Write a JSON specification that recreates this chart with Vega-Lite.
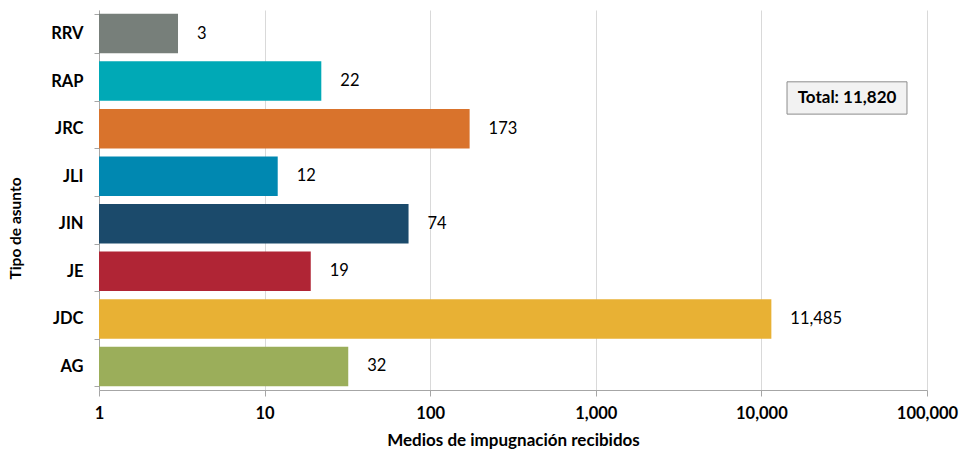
{
  "$schema": "https://vega.github.io/schema/vega-lite/v6.json",
  "autosize": "none",
  "width": 828,
  "height": 380,
  "padding": {"left": 99, "top": 10, "right": 33, "bottom": 62},
  "background": "white",
  "config": {
    "font": "Lato",
    "view": {"stroke": null},
    "axis": {"labelFont": "Lato", "titleFont": "Lato"}
  },
  "datasets": {
    "bars": [
      {"tipo": "RRV", "valor": 3, "color": "#777F7A"},
      {"tipo": "RAP", "valor": 22, "color": "#00A9B6"},
      {"tipo": "JRC", "valor": 173, "color": "#D9732C"},
      {"tipo": "JLI", "valor": 12, "color": "#0088B1"},
      {"tipo": "JIN", "valor": 74, "color": "#1B4A6B"},
      {"tipo": "JE", "valor": 19, "color": "#B02535"},
      {"tipo": "JDC", "valor": 11485, "color": "#E8B134"},
      {"tipo": "AG", "valor": 32, "color": "#9BAE5A"}
    ],
    "total": [
      {"label": "Total: 11,820", "x1": 14280, "x2": 75700, "xm": 32900, "y1": 0.726, "y2": 0.811, "ym": 0.7685}
    ]
  },
  "layer": [
    {
      "data": {"name": "bars"},
      "layer": [
        {
          "mark": {"type": "bar"},
          "encoding": {
            "y": {
              "field": "tipo", "type": "nominal", "sort": null,
              "scale": {"paddingInner": 0.17, "paddingOuter": 0.08},
              "axis": {
                "title": "Tipo de asunto", "titleFontSize": 15.5, "titleFontWeight": "bold", "titleColor": "#000",
                "titlePadding": 27, "titleY": 218,
                "labelFontSize": 16.5, "labelFontWeight": "bold", "labelColor": "#000", "labelPadding": 11,
                "tickBand": "extent", "tickColor": "#a6a6a6", "tickSize": 5,
                "domainColor": "#a6a6a6", "grid": false
              }
            },
            "x": {
              "field": "valor", "type": "quantitative",
              "scale": {"type": "log", "domain": [1, 100000], "nice": false},
              "axis": {
                "title": "Medios de impugnación recibidos", "titleFontSize": 17, "titleFontWeight": "bold", "titleColor": "#000",
                "titlePadding": 11,
                "labelFontSize": 16.5, "labelFontWeight": "bold", "labelColor": "#000", "labelPadding": 9,
                "values": [1, 10, 100, 1000, 10000, 100000], "format": ",d",
                "tickColor": "#a6a6a6", "tickSize": 6, "domainColor": "#a6a6a6",
                "grid": true, "gridColor": "#d9d9d9",
                "labelFlush": false
              }
            },
            "x2": {"datum": 1},
            "color": {"field": "color", "type": "nominal", "scale": null, "legend": null}
          }
        },
        {
          "mark": {"type": "text", "align": "left", "baseline": "middle", "dx": 19, "fontSize": 16.5, "color": "#000"},
          "encoding": {
            "y": {"field": "tipo", "type": "nominal", "sort": null},
            "x": {"field": "valor", "type": "quantitative"},
            "text": {"field": "valor", "type": "quantitative", "format": ",d"}
          }
        }
      ]
    },
    {
      "data": {"name": "total"},
      "layer": [
        {
          "mark": {"type": "rect", "fill": "#f2f2f2", "stroke": "#8c8c8c", "strokeWidth": 1},
          "encoding": {
            "x": {"field": "x1", "type": "quantitative"},
            "x2": {"field": "x2"},
            "y": {"field": "y1", "type": "quantitative", "scale": {"domain": [0, 1]}, "axis": null},
            "y2": {"field": "y2"}
          }
        },
        {
          "mark": {"type": "text", "fontSize": 17, "fontWeight": "bold", "color": "#000", "baseline": "middle"},
          "encoding": {
            "x": {"field": "xm", "type": "quantitative"},
            "y": {"field": "ym", "type": "quantitative", "scale": {"domain": [0, 1]}, "axis": null},
            "text": {"field": "label"}
          }
        }
      ]
    }
  ],
  "resolve": {"scale": {"y": "independent"}}
}
